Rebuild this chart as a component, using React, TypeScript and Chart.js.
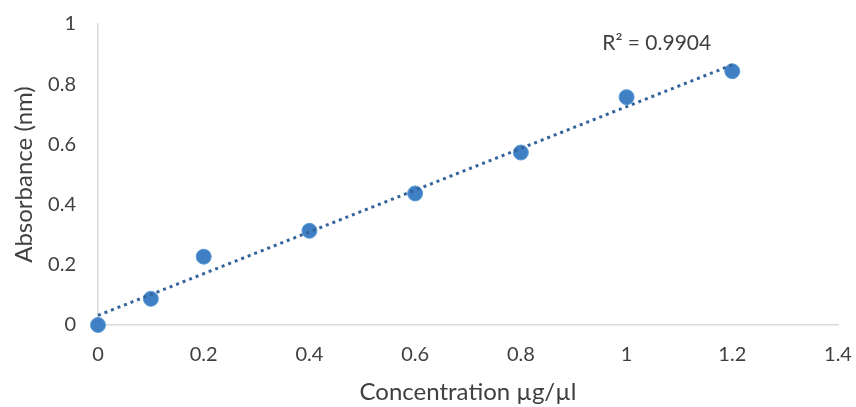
import React, { useEffect, useRef } from "react";
import { Chart, registerables } from "chart.js";

Chart.register(...registerables);

const concentrations = [0, 0.1, 0.2, 0.4, 0.6, 0.8, 1, 1.2];
const absorbances = [0, 0.087, 0.227, 0.313, 0.437, 0.573, 0.757, 0.843];
const xTicks = [0, 0.2, 0.4, 0.6, 0.8, 1, 1.2, 1.4];
const yTicks = [0, 0.2, 0.4, 0.6, 0.8, 1];
const rSquaredLabel = "R\u00B2 = 0.9904";
const xTitle = "Concentration \u00B5g/\u00B5l";
const yTitle = "Absorbance (nm)";

function regression(xs: number[], ys: number[]) {
  const n = xs.length;
  const mx = xs.reduce((a, b) => a + b, 0) / n;
  const my = ys.reduce((a, b) => a + b, 0) / n;
  let sxy = 0, sxx = 0;
  for (let i = 0; i < n; i++) {
    sxy += (xs[i] - mx) * (ys[i] - my);
    sxx += (xs[i] - mx) ** 2;
  }
  const slope = sxy / sxx;
  return { slope, intercept: my - slope * mx };
}

const FONT = "Lato, 'Open Sans', sans-serif";
const TEXT = "#404040";

export default function App() {
  const ref = useRef<HTMLCanvasElement | null>(null);
  useEffect(() => {
    document.body.style.margin = "0";
    const { slope, intercept } = regression(concentrations, absorbances);
    const xMin = concentrations[0];
    const xMax = concentrations[concentrations.length - 1];
    const trend = [
      { x: xMin, y: intercept + slope * xMin },
      { x: xMax, y: intercept + slope * xMax },
    ];
    const labelPlugin = {
      id: "r2label",
      afterDatasetsDraw(chart: any) {
        const { ctx, scales } = chart;
        ctx.save();
        ctx.font = `21px ${FONT}`;
        ctx.fillStyle = TEXT;
        ctx.textAlign = "center";
        ctx.textBaseline = "middle";
        ctx.fillText(rSquaredLabel, scales.x.getPixelForValue(1.057), scales.y.getPixelForValue(0.937));
        ctx.restore();
      },
    };
    const chart = new Chart(ref.current!, {
      type: "scatter",
      data: {
        datasets: [
          {
            type: "scatter",
            data: concentrations.map((x, i) => ({ x, y: absorbances[i] })),
            backgroundColor: "#3f7fc4",
            borderColor: "#5b9bd5",
            borderWidth: 1,
            pointRadius: 7.5,
            clip: false,
            order: 2,
          },
          {
            type: "line",
            data: trend,
            borderColor: "#33649b",
            borderWidth: 3,
            borderDash: [3, 4],
            pointRadius: 0,
            fill: false,
            clip: false,
            order: 1,
          } as any,
        ],
      },
      options: {
        animation: false,
        responsive: false,
        maintainAspectRatio: false,
        layout: { padding: { top: 24, right: 18, left: 0, bottom: 0 } },
        plugins: { legend: { display: false }, tooltip: { enabled: false } },
        scales: {
          x: {
            type: "linear",
            min: 0,
            max: 1.4,
            afterBuildTicks: (s: any) => { s.ticks = xTicks.map((v) => ({ value: v })); },
            afterFit: (s: any) => { s.height = 82; s.paddingLeft = 0; s.paddingRight = 0; },
            grid: { display: false, drawTicks: false },
            border: { display: true, color: "#d9d9d9", width: 1.5 },
            ticks: { padding: 18, color: TEXT, font: { family: FONT, size: 20 }, maxRotation: 0, callback: (v: any) => String(v) },
            title: { display: true, text: xTitle, color: TEXT, font: { family: FONT, size: 24 }, padding: { top: 0, bottom: 0 } },
          },
          y: {
            type: "linear",
            min: 0,
            max: 1,
            afterBuildTicks: (s: any) => { s.ticks = yTicks.map((v) => ({ value: v })); },
            afterFit: (s: any) => { s.width = 98; s.paddingTop = 0; s.paddingBottom = 0; },
            grid: { display: false, drawTicks: false },
            border: { display: true, color: "#d9d9d9", width: 1.5 },
            ticks: { padding: 22, color: TEXT, font: { family: FONT, size: 20 }, callback: (v: any) => String(v) },
            title: { display: true, text: yTitle, color: TEXT, font: { family: FONT, size: 24 }, padding: { top: 10, bottom: 0 } },
          },
        },
      },
      plugins: [labelPlugin],
    } as any);
    return () => chart.destroy();
  }, []);
  return <canvas ref={ref} width={856} height={407} style={{ display: "block" }} />;
}
